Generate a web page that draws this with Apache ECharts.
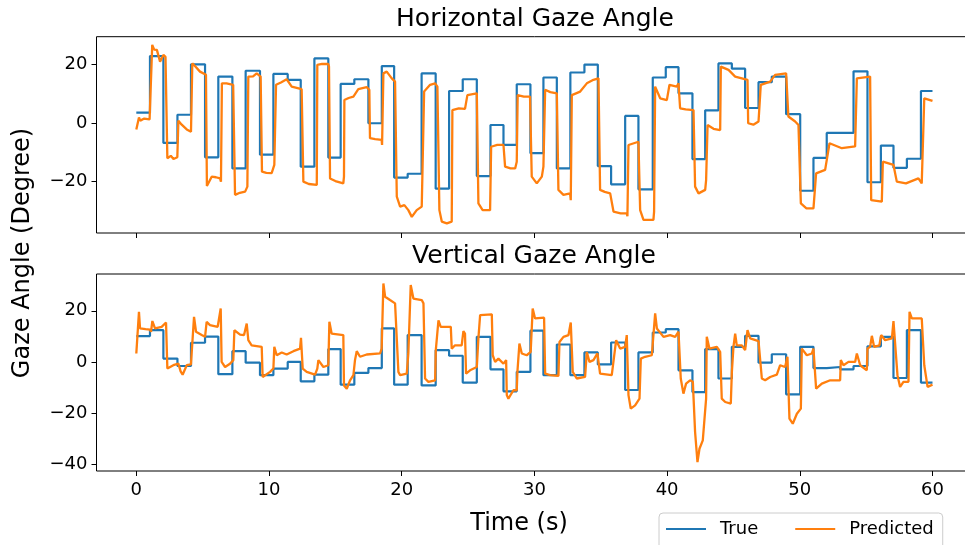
<!DOCTYPE html>
<html>
<head>
<meta charset="utf-8">
<script src="https://cdn.jsdelivr.net/npm/echarts@6/dist/echarts.min.js"></script>
<style>
  html, body { margin: 0; padding: 0; background: #fff; overflow: hidden; }
  #chart { width: 980px; height: 545px; }
</style>
</head>
<body>
<div id="chart"></div>
<script>
// Ground-truth gaze angles: value held from each time until the next one
const trueTime = [0, 1.03, 2.04, 3.1, 4.12, 5.18, 6.18, 7.24, 8.24, 9.32, 10.33, 11.41, 12.39, 13.42, 14.47, 15.4, 16.43, 17.49, 18.5, 19.43,
  20.45, 21.5, 22.56, 23.57, 24.6, 25.66, 26.69, 27.67, 28.67, 29.7, 30.68, 31.69, 32.71, 33.77, 34.78, 35.78, 36.84, 37.84, 38.92, 39.9,
  40.86, 41.91, 42.87, 43.87, 44.88, 45.88, 46.89, 47.89, 48.97, 50.03, 51.03, 52.03, 53.04, 54.05, 55.1, 56.11, 57.06, 58.07, 59.13, 60];
const trueHorizontal = [3.5, 22.8, -6.8, 2.8, 20, -11.7, 15.8, -15.5, 17.8, -10.8, 16.7, 14.7, -14.9, 22, -11.8, 13.3, 14.9, -0.1, 19.4, -18.6,
  -17.3, 16.9, -22.4, 10.9, 14.9, -18.1, -0.7, -7.5, 13.2, -10.3, 15.5, -15.5, 17.2, 19.9, -14.7, -20.9, 2.4, -22.6, 15.5, 19,
  10.1, -12.3, 4.3, 20.3, 18.5, 5.1, 13.9, 15.8, 3.0, -23.1, -11.9, -3.4, -3.4, 17.6, -20.2, -7.7, -15.3, -12.2, 10.9, 10.9];
const trueVertical = [10.1, 12.4, 1.3, -1.6, 7.5, 9.9, -4.8, 4.2, -0.3, -5.2, -2.6, 0, -7.6, -5, 5, -8.9, -4.3, -2.4, 13.1, -8.9,
  10.5, -9.2, 4.6, 2.4, -8.1, 9.8, -2.9, -11.5, -3.9, 12.2, -5.2, 6.8, -5.2, 3.7, -1, 7.6, -11, 3.7, 11.5, 12.8,
  -3.3, -11.8, 5, -6.5, 5.9, 10.2, -0.3, 3, -12.7, 5.9, -2.4, -2.0, -2.9, -1.6, 6.1, 9.8, -6.3, 12.4, -8.1, -8.1];

// Model output, horizontal angle
const predHTime = [0, 0.2, 0.3, 0.6, 1.0, 1.08, 1.2, 1.35, 1.55, 1.79, 2.04, 2.2, 2.34, 2.6, 2.8, 3.09, 3.17, 3.4, 3.8, 4.12,
  4.22, 4.4, 4.8, 5.25, 5.32, 5.68, 6.0, 6.31, 6.38, 6.45, 6.8, 7.3, 7.44, 7.8, 8.2, 8.37, 8.44, 8.8, 9.07, 9.37,
  9.47, 9.8, 10.2, 10.4, 10.53, 10.9, 11.33, 11.71, 12.46, 12.59, 13.0, 13.6, 13.64, 14.0, 14.47, 14.52, 14.6, 15.0, 15.6, 15.65,
  15.68, 16.0, 16.36, 16.73, 17.36, 17.56, 17.61, 18.0, 18.49, 18.52, 18.62, 18.87, 19.25, 19.5, 19.63, 19.88, 20.2, 20.5, 20.76, 21.13,
  21.51, 21.69, 22.14, 22.52, 22.69, 22.84, 23.02, 23.4, 23.77, 23.82, 24.3, 24.77, 24.95, 25.66, 25.78, 26.1, 26.66, 26.74, 27.2, 27.67,
  27.79, 28.2, 28.55, 28.67, 28.74, 29.2, 29.67, 29.8, 30.18, 30.56, 30.68, 30.81, 31.2, 31.69, 31.81, 32.19, 32.69, 32.74, 32.82, 33.45,
  33.95, 34.45, 34.83, 34.95, 35.3, 35.71, 35.96, 36.5, 36.96, 37.01, 37.09, 37.84, 37.97, 38.22, 38.97, 39.02, 39.1, 39.48, 39.98, 40.18,
  40.73, 40.86, 40.98, 41.4, 41.99, 42.11, 42.37, 42.87, 42.94, 43.05, 43.5, 44.0, 44.05, 44.63, 44.75, 45.13, 46.06, 46.11, 46.5, 46.89,
  47.06, 47.77, 48.14, 48.97, 49.14, 49.65, 49.9, 50.08, 50.5, 51.03, 51.23, 51.91, 52.24, 53.17, 54.17, 54.3, 55.3, 55.38, 56.18, 56.26,
  57.06, 57.31, 58.0, 58.94, 59.19, 59.38, 60];
const predHValue = [-2.2, 1.9, 0.8, 1.5, 1.2, 1.8, 26.6, 25, 24.9, 20.9, 23.2, 22.5, -12, -11.2, -12.3, -11.7, 0.8, -0.5, -2.2, -3,
  20.3, 19.5, 17.5, 16.4, -21.5, -18.3, -18.5, -18.9, -20, 13.5, 13.5, 13, -24.5, -23.8, -23.4, -21.7, 15.8, 15.9, 16.9, 15.8,
  -16.6, -17, -17.1, -14.3, 13, 13.8, 14.9, 12.4, 11.5, -20, -20.8, -21.1, 19.8, 20.1, 20.1, 19.2, -18.9, -19.8, -20.6, -18.3,
  7.8, 8.5, 9, 11.5, 12.2, 11.3, -5.2, -5.5, -5.8, -7.5, 16.9, 17.5, 15.2, 14.1, -25.1, -28.5, -28, -29.7, -32, -29.7,
  -28.5, 10.7, 13, 13.5, 12.4, -29.7, -33.6, -34.2, -33.6, 4.4, 5, 4.8, 9.5, 10.1, -27.4, -29.7, -29.7, -8.1, -7.5, -7.5,
  -14.9, -15.5, -15.5, -13.2, 9.5, 9, 9, -18.3, -20.6, -18.3, -14.9, 11.3, 10.5, 10.1, -22.8, -24.5, -24, -26.3, 9.5, 10.7,
  13.5, 14.7, 15.2, -22.8, -23.5, -24, -30.2, -30.8, -30.8, -31.8, -7.5, -6.4, -29.7, -33, -33, -30.2, 12.4, 8.4, 7.8, 13,
  12.4, 13.5, 5, 4.6, 4.4, -21.7, -24, -22.8, -19.5, -0.7, -2, -2.4, 19.2, 18.1, 18.6, 15.8, 14.7, -0.1, -0.6, 0.5,
  13, 14.1, 16.4, 16.9, 2.2, 0.5, -0.7, -27.4, -29.1, -29.1, -17.2, -16, -6.9, -8.6, -8.0, 15.2, 15.8, -26.3, -26.8, -13.2,
  -14.3, -20, -20.6, -18.9, -20.6, 8.4, 7.5];

// Model output, vertical angle
const predVTime = [0, 0.03, 0.2, 0.28, 0.7, 1.03, 1.11, 1.21, 1.41, 1.91, 2.24, 2.34, 2.79, 3.17, 3.34, 3.49, 3.8, 4.12, 4.17, 4.35,
  4.5, 4.93, 5.18, 5.3, 5.55, 6.13, 6.36, 6.43, 6.69, 7.06, 7.31, 7.39, 7.82, 8.12, 8.32, 8.44, 8.69, 9.45, 9.52, 9.62,
  10.08, 10.33, 10.4, 10.58, 10.96, 11.33, 11.84, 12.34, 12.41, 12.54, 12.84, 13.47, 13.64, 13.72, 14.1, 14.47, 14.55, 14.72, 15.6, 15.65,
  15.86, 16.11, 16.36, 16.48, 16.61, 16.86, 17.36, 18.37, 18.49, 18.62, 18.75, 19.12, 19.5, 19.63, 19.75, 19.88, 20.38, 20.5, 20.68, 20.88,
  21.51, 21.64, 21.76, 22.01, 22.52, 22.57, 22.64, 22.77, 22.94, 23.7, 23.77, 24.02, 24.52, 24.65, 24.77, 24.85, 25.15, 25.66, 25.78, 25.91,
  26.79, 26.86, 27.04, 27.29, 27.67, 27.87, 27.92, 28.04, 28.42, 28.67, 28.72, 28.87, 29.05, 29.42, 29.72, 29.87, 30.05, 30.73, 30.81, 31.19,
  31.81, 31.89, 32.19, 32.57, 32.74, 32.89, 33.19, 33.82, 33.95, 34.15, 34.45, 34.75, 34.95, 35.83, 36.16, 36.46, 36.84, 36.96, 37.09, 37.26,
  37.59, 37.92, 38.02, 38.34, 38.85, 39.1, 39.23, 39.73, 40.23, 40.61, 40.86, 41.03, 41.23, 41.43, 41.73, 41.94, 42.11, 42.29, 42.44, 42.69,
  42.81, 42.94, 42.99, 43.19, 43.75, 44.0, 44.12, 44.38, 44.8, 44.88, 45.0, 45.13, 45.25, 45.63, 45.88, 46.06, 46.26, 46.89, 47.14, 47.39,
  47.77, 48.27, 48.52, 48.89, 49.07, 49.22, 49.47, 49.78, 50.08, 50.15, 50.28, 50.53, 50.91, 51.03, 51.23, 51.66, 52.29, 53.04, 53.09, 53.29,
  53.67, 54.17, 54.3, 54.55, 55.05, 55.1, 55.3, 55.43, 55.6, 56.0, 56.13, 56.43, 56.94, 57.06, 57.21, 57.36, 57.56, 57.81, 58.19, 58.27,
  58.44, 59.19, 59.38, 59.63, 60];
const predVValue = [3.3, 2.9, 19.6, 13.1, 12.8, 12.6, 11.8, 16, 13.1, 13.7, 15.4, -2.6, -1.3, -0.7, -3.7, -5, -1.3, -1.0, 3.3, 17.6,
  11.8, 10.5, 9.8, 15.7, 14.4, 13.7, 20.9, 0, -2, -0.7, 0.7, 12.4, 10.7, 10.5, 15, 8.5, 6.5, 5.9, -5.9, -6.5,
  -3.9, -2.6, 5.9, 2.6, 3.7, 2.9, 4.2, 5.2, 9.4, -2.6, -3.9, -5, -2.6, 0.7, -2, -1.3, 15.7, 11.1, 10.5, -9.2,
  -10.5, -7.2, -5.2, 0.7, 4.2, 2, 2.9, 3.3, 5.2, 30.7, 25.5, 24.2, 22.9, 22.2, -3.9, -5.2, -4.6, 3.3, 30.1, 24.8,
  24.2, 22.9, -6.5, -7.8, -7.2, 4.6, 5.2, 16.3, 13.7, 13.7, 5.2, 6.5, 6.5, 12, 11.1, -4.6, -3.3, -2, 9.2, 18.3,
  18.6, 2.6, 0, 1.3, -0.7, 0.7, -13, -14.4, -11.1, -11.1, -3.9, 7.2, 3.3, 2.6, 3.9, 20.9, 17, 17.3, -4.6, -5.2,
  -5.5, 7.8, 9.8, 10.5, 15.4, -3.9, -6.5, -5.9, 3.9, 0, 0.7, 3.3, -4.6, -5.2, 8.5, 5.2, 5.9, 10.5, -13, -18.3,
  -17, -14.4, 1.3, 2, 2.6, 19, 13.1, 9.8, 10.5, 9.8, 11.8, -6.5, -12.4, -8.5, -7.2, -7.8, -27.5, -39.2, -34, -30.7,
  -30.1, -14.4, 9.8, 5.2, 5.9, 3.9, -14.4, -15.7, -16.3, -4, 5.9, 11.1, 6.5, 6.5, 4.6, 12.4, 9.2, 8.1, -6.5, -7.2,
  -5.9, -5, -1.3, -2, 2, -22.2, -24.2, -20.3, -18.3, 5.2, 5.9, 2.6, 3.3, 5.2, -10.5, -8.5, -7.2, -7.2, 0.7, -1.3,
  0, 0, 3.3, -1.3, -3.3, 5.2, 5.9, 10.2, 5.9, 6.5, 10.5, 8.5, 9.2, 16, 16, -5.2, -9.8, -7.8, -7.8, 19.6,
  17, 17, -1.3, -9.8, -8.9];

// Axis ticks
const xTicks = [0, 10, 20, 30, 40, 50, 60];
const yTicksHorizontal = [-20, 0, 20];
const yTicksVertical = [-40, -20, 0, 20];

const FONT = 'DejaVu Sans';
const BLUE = '#1f77b4';
const ORANGE = '#ff7f0e';

const zip = (xs, ys) => xs.map((x, i) => [x, ys[i]]);
const fmtTick = v => String(v).replace('-', '\u2212');

// The plot area runs slightly past the right edge of the visible page
const gridLeft = 96.5, gridWidth = 875.8;
const grids = [
  { left: gridLeft, top: 36.7, width: gridWidth, height: 196.3 },
  { left: gridLeft, top: 274, width: gridWidth, height: 197 }
].map(g => Object.assign({ show: true, borderColor: '#000', borderWidth: 1, backgroundColor: 'transparent' }, g));

function makeXAxis(gridIndex, showLabels) {
  return {
    type: 'value', gridIndex, min: -3, max: 63, position: 'bottom',
    axisLine: { show: false, onZero: false },
    splitLine: { show: false },
    axisTick: { show: true, length: 5, lineStyle: { color: '#000', width: 1 }, customValues: xTicks },
    axisLabel: {
      show: showLabels, customValues: xTicks, margin: 10,
      fontFamily: FONT, fontSize: 18, color: '#000', formatter: fmtTick
    }
  };
}
function makeYAxis(gridIndex, min, max, ticks) {
  return {
    type: 'value', gridIndex, min, max, position: 'left',
    axisLine: { show: false, onZero: false },
    splitLine: { show: false },
    axisTick: { show: true, length: 5, lineStyle: { color: '#000', width: 1 }, customValues: ticks },
    axisLabel: {
      customValues: ticks, margin: 9,
      fontFamily: FONT, fontSize: 18, color: '#000', formatter: fmtTick
    }
  };
}

function trueSeries(idx, values) {
  return {
    name: 'True', type: 'line', step: 'end', xAxisIndex: idx, yAxisIndex: idx,
    data: zip(trueTime, values), showSymbol: false, symbol: 'none',
    lineStyle: { color: BLUE, width: 2.2 }, itemStyle: { color: BLUE }, z: 2
  };
}
function predSeries(idx, times, values) {
  return {
    name: 'Predicted', type: 'line', xAxisIndex: idx, yAxisIndex: idx,
    data: zip(times, values), showSymbol: false, symbol: 'none',
    lineStyle: { color: ORANGE, width: 2.3 }, itemStyle: { color: ORANGE }, z: 3
  };
}

const chart = echarts.init(document.getElementById('chart'), null, { renderer: 'canvas' });
chart.setOption({
  animation: false,
  backgroundColor: '#fff',
  grid: grids,
  xAxis: [makeXAxis(0, false), makeXAxis(1, true)],
  yAxis: [
    makeYAxis(0, -37.5, 29.4, yTicksHorizontal),
    makeYAxis(1, -42.7, 34.4, yTicksVertical)
  ],
  legend: {
    left: 659, top: 513,
    padding: [6, 9, 10, 7],
    itemWidth: 40, itemHeight: 2, itemGap: 37,
    icon: 'rect',
    borderColor: '#cccccc', borderWidth: 1, borderRadius: 4,
    backgroundColor: '#fff',
    textStyle: { fontFamily: FONT, fontSize: 18, color: '#000', lineHeight: 20, padding: [0, 0, 0, 9] },
    data: ['True', 'Predicted']
  },
  graphic: [
    { type: 'text', x: 535, y: 19, style: { text: 'Horizontal Gaze Angle', font: '25px "DejaVu Sans"', fill: '#000', textAlign: 'center', textVerticalAlign: 'middle' } },
    { type: 'text', x: 534, y: 256, style: { text: 'Vertical Gaze Angle', font: '25px "DejaVu Sans"', fill: '#000', textAlign: 'center', textVerticalAlign: 'middle' } },
    { type: 'text', x: 519, y: 524, style: { text: 'Time (s)', font: '24px "DejaVu Sans"', fill: '#000', textAlign: 'center', textVerticalAlign: 'middle' } },
    { type: 'text', x: 22.5, y: 253, rotation: Math.PI / 2, style: { text: 'Gaze Angle (Degree)', font: '24px "DejaVu Sans"', fill: '#000', textAlign: 'center', textVerticalAlign: 'middle' } }
  ],
  series: [
    trueSeries(0, trueHorizontal),
    predSeries(0, predHTime, predHValue),
    trueSeries(1, trueVertical),
    predSeries(1, predVTime, predVValue)
  ]
});
</script>
</body>
</html>
